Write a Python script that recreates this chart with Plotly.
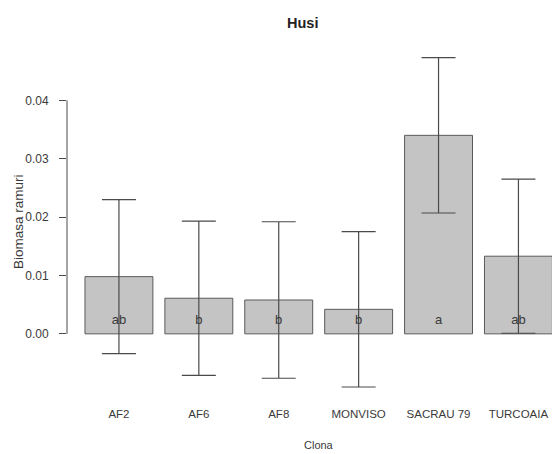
import plotly.graph_objects as go

# Mean shoot biomass per clone with standard errors and Tukey letters
clones = ["AF2", "AF6", "AF8", "MONVISO", "SACRAU 79", "TURCOAIA"]
biomass = [0.0098, 0.0061, 0.0058, 0.0042, 0.0340, 0.0133]
std_err = [0.0132, 0.0132, 0.0134, 0.0133, 0.0133, 0.0132]
groups = ["ab", "b", "b", "b", "a", "ab"]
y_ticks = [0.00, 0.01, 0.02, 0.03, 0.04]

sans = "Liberation Sans, Arial, sans-serif"
ink = "#3a3a3a"

fig = go.Figure()
fig.add_trace(go.Bar(
    x=clones,
    y=biomass,
    marker=dict(color="#c4c4c4", line=dict(color="#5a5a5a", width=1)),
    error_y=dict(type="data", array=std_err, visible=True,
                 color="#4a4a4a", thickness=1.2, width=17),
    showlegend=False,
))

# group letters placed low inside each bar
fig.add_trace(go.Scatter(
    x=clones,
    y=[0.0023] * len(clones),
    mode="text",
    text=groups,
    textfont=dict(family=sans, size=13, color=ink),
    showlegend=False,
))

fig.update_layout(
    width=552, height=454,
    margin=dict(l=67, r=0, t=39, b=53),
    plot_bgcolor="white", paper_bgcolor="white",
    bargap=0.15,
    font=dict(family=sans, size=12, color=ink),
    xaxis=dict(
        range=[-0.65, 5.42],
        showline=False, showgrid=False, zeroline=False,
        ticks="", tickfont=dict(family=sans, size=11.5, color=ink),
        ticklabelstandoff=4,
    ),
    yaxis=dict(
        range=[-0.0115, 0.0505],
        tickvals=y_ticks,
        ticktext=[f"{v:.2f}" for v in y_ticks],
        showline=False, showgrid=False, zeroline=False,
        ticks="outside", ticklen=7, tickwidth=1, tickcolor="#4a4a4a",
        tickfont=dict(family=sans, size=12, color=ink),
        ticklabelstandoff=8,
    ),
    shapes=[dict(type="line", xref="paper", yref="y",
                 x0=0, x1=0, y0=y_ticks[0], y1=y_ticks[-1],
                 line=dict(color="#4a4a4a", width=1))],
    annotations=[
        dict(text="<b>Husi</b>", xref="paper", yref="paper",
             x=(302 - 67) / 485, y=1, xanchor="center", yanchor="middle",
             yshift=16, showarrow=False,
             font=dict(family=sans, size=14.5, color="#222222")),
        dict(text="Clona", xref="paper", yref="paper",
             x=(319 - 67) / 485, y=0, xanchor="center", yanchor="middle",
             yshift=-44, showarrow=False,
             font=dict(family=sans, size=11, color=ink)),
        dict(text="Biomasa ramuri", xref="paper", yref="paper",
             x=0, y=0.5, xanchor="center", yanchor="middle",
             xshift=-49, yshift=-2, textangle=-90, showarrow=False,
             font=dict(family=sans, size=13.5, color=ink)),
    ],
)

fig.write_html("out.html")
